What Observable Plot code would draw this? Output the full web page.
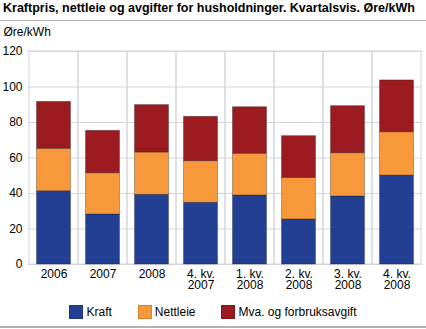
<!DOCTYPE html>
<html><head><meta charset="utf-8">
<script src="https://cdn.jsdelivr.net/npm/d3@7"></script>
<script src="https://cdn.jsdelivr.net/npm/@observablehq/plot@0.6"></script>
<style>
body{margin:0;background:#fff;font-family:"Liberation Sans",Arial,sans-serif;}
#wrap{position:relative;width:426px;height:329px;overflow:hidden;background:#fff;}
#title{position:absolute;left:3px;top:1px;font-weight:bold;font-size:12.5px;color:#000;white-space:nowrap;}
#rule1{position:absolute;left:0;top:20px;width:426px;height:1px;background:#b0b0b0;}
#chart{position:absolute;left:0;top:21px;}
#legend{position:absolute;top:305px;left:0;width:426px;display:flex;justify-content:center;font-size:12px;color:#000;}
.item{display:flex;align-items:center;margin:0 13px;}
.sw{width:14px;height:14px;margin-right:3px;box-sizing:border-box;border:1px solid rgba(0,0,0,0.15);}
#rule2{position:absolute;left:0;top:326px;width:426px;height:2px;background:#b0b0b0;}
</style></head>
<body>
<div id="wrap">
  <div id="title">Kraftpris, nettleie og avgifter for husholdninger. Kvartalsvis. Øre/kWh</div>
  <div id="rule1"></div>
  <div id="chart"></div>
  <div id="legend"></div>
  <div id="rule2"></div>
</div>
<script>
const categories = ["2006","2007","2008","4. kv. 2007","1. kv. 2008","2. kv. 2008","3. kv. 2008","4. kv. 2008"];
const tickLabels = ["2006","2007","2008","4. kv.\n2007","1. kv.\n2008","2. kv.\n2008","3. kv.\n2008","4. kv.\n2008"];
const kraft    = [41.3, 28.2, 39.3, 34.8, 38.9, 25.4, 38.3, 50.1];
const nettleie = [23.9, 23.2, 23.8, 23.4, 23.5, 23.4, 24.4, 24.4];
const mva      = [26.4, 23.9, 26.7, 25.0, 26.2, 23.5, 26.5, 29.2];
const seriesNames = ["Kraft", "Nettleie", "Mva. og forbruksavgift"];
const seriesColors = ["#233f94", "#f7993b", "#9b1b20"];
const yTicks = [0, 20, 40, 60, 80, 100, 120];
const yUnit = "Øre/kWh";

const seriesValues = [kraft, nettleie, mva];
const rows = [];
categories.forEach((c, i) => {
  seriesNames.forEach((s, j) => rows.push({cat: c, series: s, value: seriesValues[j][i]}));
});
const labelOf = new Map(categories.map((c, i) => [c, tickLabels[i]]));

const chart = Plot.plot({
  width: 426,
  height: 278,
  marginTop: 30,
  marginBottom: 35,
  marginLeft: 28,
  marginRight: 4,
  style: {fontFamily: "'Liberation Sans', Arial, sans-serif", fontSize: "12px", color: "#000"},
  x: {domain: categories, padding: 0, label: null, axis: null},
  y: {domain: [0, 120], ticks: yTicks, tickSize: 0, tickPadding: 6, label: null},
  color: {domain: seriesNames, range: seriesColors},
  marks: [
    Plot.ruleY(yTicks, {stroke: "#d3d5db", strokeWidth: 1}),
    Plot.barY(categories, {x: d => d, y1: 0, y2: yTicks[yTicks.length - 1], fill: "none", stroke: "#d3d5db", strokeWidth: 1}),
    Plot.barY(rows, Plot.stackY({x: "cat", y: "value", fill: "series", order: seriesNames, insetLeft: 7.5, insetRight: 7.5, stroke: "#000", strokeOpacity: 0.35, strokeWidth: 0.8})),
    Plot.axisX({tickSize: 0, tickPadding: 6, tickFormat: d => labelOf.get(d), label: null, lineHeight: 0.92, fontSize: 12}),
    Plot.text([yUnit], {frameAnchor: "top-left", text: d => d, textAnchor: "start", dx: -25, dy: -24, fontSize: 12})
  ]
});
document.getElementById("chart").appendChild(chart);

const legend = d3.select("#legend");
seriesNames.forEach((s, i) => {
  const it = legend.append("div").attr("class", "item");
  it.append("div").attr("class", "sw").style("background", seriesColors[i]);
  it.append("span").text(s);
});
</script>
</body></html>
